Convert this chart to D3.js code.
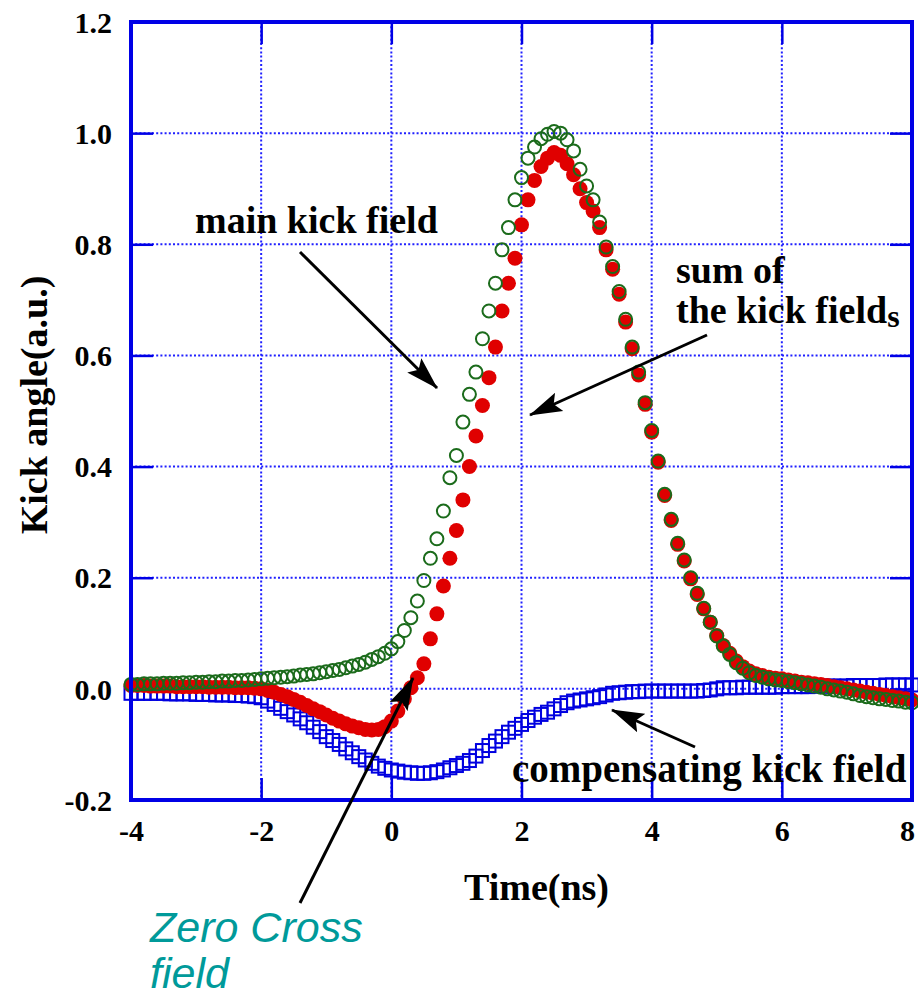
<!DOCTYPE html>
<html>
<head>
<meta charset="utf-8">
<script src="https://cdn.jsdelivr.net/npm/d3@7"></script>
<style>
  body { margin: 0; background: #fff; }
  svg { display: block; }
</style>
</head>
<body>
<div id="chart"></div>
<script>
// time axis (ns)
const time = [
  -4.0, -3.9, -3.8, -3.7, -3.6, -3.5, -3.4, -3.3, -3.2, -3.1,
  -3.0, -2.9, -2.8, -2.7, -2.6, -2.5, -2.4, -2.3, -2.2, -2.1,
  -2.0, -1.9, -1.8, -1.7, -1.6, -1.5, -1.4, -1.3, -1.2, -1.1,
  -1.0, -0.9, -0.8, -0.7, -0.6, -0.5, -0.4, -0.3, -0.2, -0.1,
  0.0, 0.1, 0.2, 0.3, 0.4, 0.5, 0.6, 0.7, 0.8, 0.9,
  1.0, 1.1, 1.2, 1.3, 1.4, 1.5, 1.6, 1.7, 1.8, 1.9,
  2.0, 2.1, 2.2, 2.3, 2.4, 2.5, 2.6, 2.7, 2.8, 2.9,
  3.0, 3.1, 3.2, 3.3, 3.4, 3.5, 3.6, 3.7, 3.8, 3.9,
  4.0, 4.1, 4.2, 4.3, 4.4, 4.5, 4.6, 4.7, 4.8, 4.9,
  5.0, 5.1, 5.2, 5.3, 5.4, 5.5, 5.6, 5.7, 5.8, 5.9,
  6.0, 6.1, 6.2, 6.3, 6.4, 6.5, 6.6, 6.7, 6.8, 6.9,
  7.0, 7.1, 7.2, 7.3, 7.4, 7.5, 7.6, 7.7, 7.8, 7.9,
  8.0
];

// main kick field (green open circles)
const mainKick = [
  0.008, 0.008, 0.009, 0.009, 0.009, 0.010, 0.010, 0.010, 0.011, 0.011,
  0.012, 0.012, 0.013, 0.013, 0.014, 0.014, 0.015, 0.015, 0.016, 0.017,
  0.018, 0.019, 0.020, 0.021, 0.022, 0.023, 0.025, 0.026, 0.027, 0.029,
  0.031, 0.033, 0.035, 0.038, 0.041, 0.044, 0.048, 0.053, 0.058, 0.064,
  0.072, 0.085, 0.105, 0.128, 0.158, 0.195, 0.235, 0.270, 0.320, 0.380,
  0.420, 0.480, 0.530, 0.570, 0.630, 0.680, 0.730, 0.790, 0.830, 0.880,
  0.920, 0.955, 0.975, 0.990, 0.998, 1.003, 1.000, 0.988, 0.968, 0.935,
  0.905, 0.880, 0.840, 0.795, 0.760, 0.715, 0.665, 0.615, 0.570, 0.515,
  0.465, 0.410, 0.350, 0.305, 0.262, 0.232, 0.200, 0.172, 0.145, 0.120,
  0.095, 0.077, 0.062, 0.047, 0.037, 0.029, 0.024, 0.021, 0.018, 0.016,
  0.015, 0.013, 0.011, 0.009, 0.007, 0.005, 0.003, 0.000, -0.002, -0.004,
  -0.006, -0.009, -0.012, -0.014, -0.016, -0.018, -0.019, -0.021, -0.022, -0.024,
  -0.025
];

// sum of the kick fields (red filled circles)
const sumKick = [
  0.006, 0.006, 0.006, 0.005, 0.005, 0.005, 0.005, 0.004, 0.004, 0.004,
  0.004, 0.004, 0.003, 0.003, 0.003, 0.003, 0.002, 0.002, 0.002, 0.001,
  0.000, -0.003, -0.006, -0.010, -0.014, -0.019, -0.024, -0.030, -0.036, -0.041,
  -0.047, -0.053, -0.058, -0.063, -0.067, -0.070, -0.073, -0.074, -0.073, -0.068,
  -0.058, -0.040, -0.018, 0.002, 0.020, 0.045, 0.090, 0.135, 0.185, 0.235,
  0.285, 0.340, 0.400, 0.455, 0.510, 0.560, 0.615, 0.680, 0.730, 0.775,
  0.835, 0.880, 0.915, 0.940, 0.955, 0.965, 0.960, 0.945, 0.925, 0.900,
  0.875, 0.860, 0.830, 0.790, 0.755, 0.710, 0.660, 0.612, 0.565, 0.512,
  0.462, 0.408, 0.348, 0.303, 0.260, 0.230, 0.198, 0.170, 0.144, 0.120,
  0.096, 0.078, 0.064, 0.050, 0.040, 0.032, 0.027, 0.024, 0.021, 0.019,
  0.018, 0.016, 0.014, 0.012, 0.011, 0.009, 0.008, 0.006, 0.004, 0.002,
  0.000, -0.002, -0.004, -0.006, -0.008, -0.010, -0.012, -0.014, -0.016, -0.018,
  -0.020
];

// compensating kick field (blue open squares)
const compKick = [
  -0.008, -0.008, -0.008, -0.008, -0.008, -0.008, -0.009, -0.009, -0.009, -0.009,
  -0.010, -0.010, -0.010, -0.011, -0.011, -0.011, -0.012, -0.012, -0.013, -0.014,
  -0.016, -0.022, -0.028, -0.035, -0.041, -0.047, -0.054, -0.061, -0.069, -0.077,
  -0.086, -0.093, -0.100, -0.108, -0.115, -0.122, -0.128, -0.134, -0.139, -0.143,
  -0.146, -0.148, -0.150, -0.151, -0.152, -0.152, -0.151, -0.149, -0.146, -0.142,
  -0.138, -0.134, -0.129, -0.121, -0.111, -0.102, -0.094, -0.086, -0.078, -0.071,
  -0.064, -0.057, -0.051, -0.046, -0.042, -0.036, -0.030, -0.025, -0.022, -0.020,
  -0.018, -0.016, -0.014, -0.011, -0.008, -0.007, -0.006, -0.005, -0.005, -0.004,
  -0.004, -0.004, -0.004, -0.004, -0.004, -0.004, -0.004, -0.004, -0.003, -0.002,
  0.000, 0.002, 0.002, 0.002, 0.003, 0.003, 0.003, 0.003, 0.003, 0.003,
  0.004, 0.004, 0.004, 0.004, 0.004, 0.005, 0.005, 0.005, 0.005, 0.005,
  0.005, 0.006, 0.006, 0.006, 0.006, 0.006, 0.007, 0.007, 0.007, 0.007,
  0.007
];

const xTicks = [-4, -2, 0, 2, 4, 6, 8];
const yTicks = [-0.2, 0.0, 0.2, 0.4, 0.6, 0.8, 1.0, 1.2];

const W = 918, H = 996;
const margin = { top: 22, right: 6, bottom: 196, left: 131 };
const width = W - margin.left - margin.right;
const height = H - margin.top - margin.bottom;

const axisBlue = "#0000e6";
const gridBlue = "#2020ff";
const serif = "'Liberation Serif', 'Times New Roman', serif";

const xScale = d3.scaleLinear().domain([-4, 8]).range([0, width]);
const yScale = d3.scaleLinear().domain([-0.2, 1.2]).range([height, 0]);

const svg = d3.select("#chart")
  .append("svg")
  .attr("width", W)
  .attr("height", H);

const defs = svg.append("defs");
defs.append("marker")
  .attr("id", "head")
  .attr("markerUnits", "userSpaceOnUse")
  .attr("viewBox", "0 -11 34 22")
  .attr("refX", 32)
  .attr("refY", 0)
  .attr("markerWidth", 34)
  .attr("markerHeight", 22)
  .attr("orient", "auto")
  .append("path")
  .attr("d", "M0,-10L33,0L0,10L6,0Z")
  .attr("fill", "#000");

const g = svg.append("g")
  .attr("transform", `translate(${margin.left}, ${margin.top})`);

// dotted grid
const grid = g.append("g").attr("class", "grid");
grid.selectAll("line.gx")
  .data(xTicks.slice(1, -1))
  .join("line")
  .attr("class", "gx")
  .attr("x1", d => xScale(d)).attr("x2", d => xScale(d))
  .attr("y1", 0).attr("y2", height);
grid.selectAll("line.gy")
  .data(yTicks.slice(1, -1))
  .join("line")
  .attr("class", "gy")
  .attr("x1", 0).attr("x2", width)
  .attr("y1", d => yScale(d)).attr("y2", d => yScale(d));
grid.selectAll("line")
  .attr("stroke", gridBlue)
  .attr("stroke-width", 2)
  .attr("stroke-dasharray", "2,2.2");

// inward ticks on all four sides
const tickLen = 22;
const fmt = d => d3.format(".1f")(d).replace("\u2212", "-");

const bottomAxis = g.append("g")
  .attr("transform", `translate(0, ${height})`)
  .call(d3.axisBottom(xScale).tickValues(xTicks).tickSize(-tickLen).tickPadding(20)
    .tickFormat(d => String(d)));
const topAxis = g.append("g")
  .call(d3.axisTop(xScale).tickValues(xTicks).tickSize(-tickLen).tickFormat(""));
const leftAxis = g.append("g")
  .call(d3.axisLeft(yScale).tickValues(yTicks).tickSize(-tickLen).tickPadding(19)
    .tickFormat(fmt));
const rightAxis = g.append("g")
  .attr("transform", `translate(${width}, 0)`)
  .call(d3.axisRight(yScale).tickValues(yTicks).tickSize(-tickLen).tickFormat(""));

[bottomAxis, topAxis, leftAxis, rightAxis].forEach(ax => {
  ax.select(".domain").remove();
  ax.selectAll(".tick line").attr("stroke", axisBlue).attr("stroke-width", 2.5);
  ax.selectAll(".tick text")
    .attr("fill", "#000")
    .style("font-family", serif)
    .style("font-weight", "bold")
    .style("font-size", "30px");
});
leftAxis.selectAll(".tick text").attr("dy", "0.34em");
// keep the last x label inside the page
bottomAxis.selectAll(".tick text").filter(d => d === 8).attr("dx", -5);

// data: blue squares, red dots, green circles
const pts = arr => time.map((t, i) => ({ t: t, v: arr[i] }));
const sq = 13;

g.append("g")
  .selectAll("rect")
  .data(pts(compKick))
  .join("rect")
  .attr("x", d => xScale(d.t) - sq / 2)
  .attr("y", d => yScale(d.v) - sq / 2)
  .attr("width", sq)
  .attr("height", sq)
  .attr("fill", "none")
  .attr("stroke", "#0000e0")
  .attr("stroke-width", 2);

g.append("g")
  .selectAll("circle")
  .data(pts(sumKick))
  .join("circle")
  .attr("cx", d => xScale(d.t))
  .attr("cy", d => yScale(d.v))
  .attr("r", 7.5)
  .attr("fill", "#e00000");

g.append("g")
  .selectAll("circle")
  .data(pts(mainKick))
  .join("circle")
  .attr("cx", d => xScale(d.t))
  .attr("cy", d => yScale(d.v))
  .attr("r", 6.5)
  .attr("fill", "none")
  .attr("stroke", "#1b6b1b")
  .attr("stroke-width", 2);

// frame
g.append("rect")
  .attr("width", width)
  .attr("height", height)
  .attr("fill", "none")
  .attr("stroke", axisBlue)
  .attr("stroke-width", 4);

// axis titles
g.append("text")
  .attr("x", width / 2 + 15)
  .attr("y", height + 100)
  .attr("text-anchor", "middle")
  .style("font-family", serif)
  .style("font-weight", "bold")
  .style("font-size", "38px")
  .text("Time(ns)");

g.append("text")
  .attr("transform", `translate(${-margin.left + 47}, ${height / 2 - 6}) rotate(-90)`)
  .attr("text-anchor", "middle")
  .style("font-family", serif)
  .style("font-weight", "bold")
  .style("font-size", "38px")
  .text("Kick angle(a.u.)");

// annotations (page coordinates)
const note = (x, y, str) => svg.append("text")
  .attr("x", x).attr("y", y)
  .style("font-family", serif)
  .style("font-weight", "bold")
  .style("font-size", "38px")
  .text(str);

note(195, 233, "main kick field");
note(676, 283, "sum of");
note(676, 323, "the kick field")
  .append("tspan")
  .attr("dy", 4)
  .style("font-size", "32px")
  .text("s");
note(512, 782, "compensating kick field").style("font-size", "39px");

const zero = svg.append("text")
  .style("font-family", "'Liberation Sans', Arial, sans-serif")
  .style("font-style", "italic")
  .style("font-size", "43px")
  .attr("fill", "#009a9a");
zero.append("tspan").attr("x", 150).attr("y", 942).text("Zero Cross");
zero.append("tspan").attr("x", 150).attr("y", 988).text("field");

const arrows = [
  [300, 252, 437, 388],
  [707, 335, 530, 415],
  [695, 747, 612, 710],
  [300, 903, 413, 678]
];
svg.append("g")
  .selectAll("line")
  .data(arrows)
  .join("line")
  .attr("x1", d => d[0]).attr("y1", d => d[1])
  .attr("x2", d => d[2]).attr("y2", d => d[3])
  .attr("stroke", "#000")
  .attr("stroke-width", 3)
  .attr("marker-end", "url(#head)");
</script>
</body>
</html>
